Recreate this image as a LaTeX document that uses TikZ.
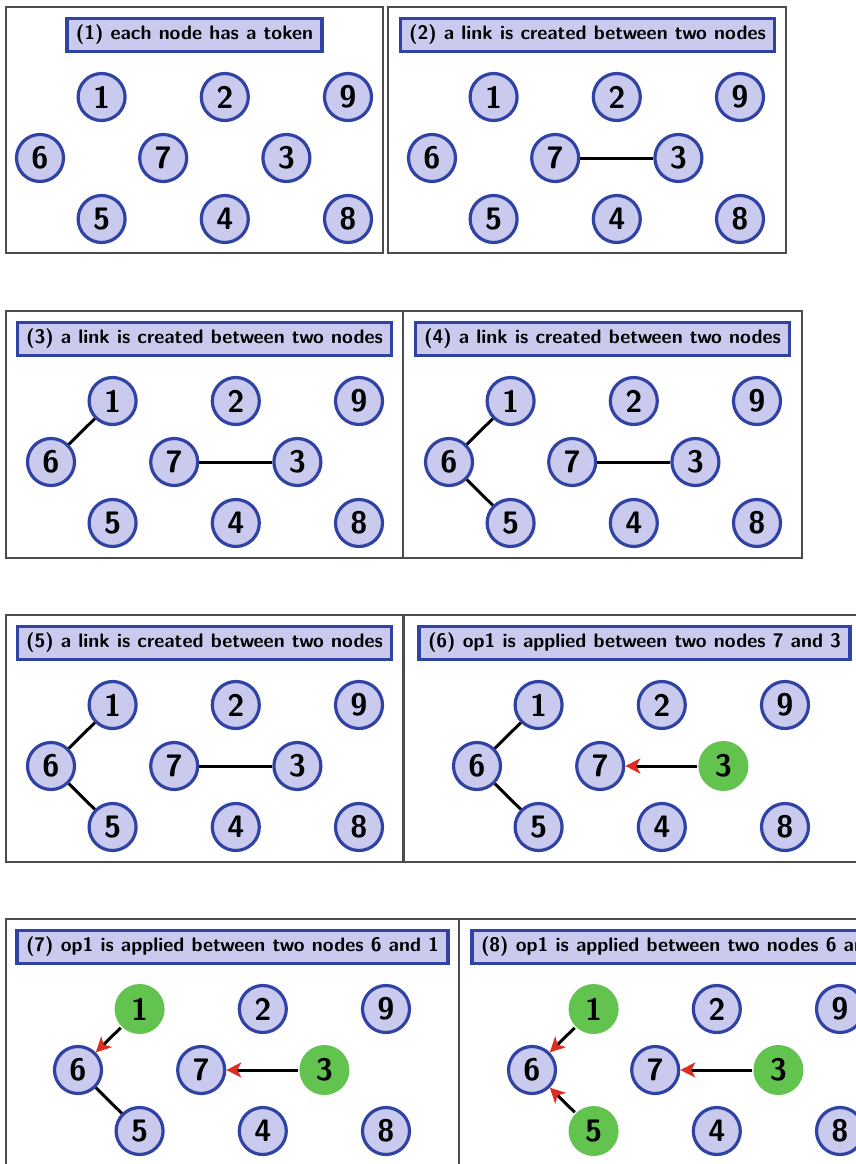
\documentclass[tikz,border=0pt]{standalone}
\usepackage{amsmath}
\usepackage{xcolor}
\usetikzlibrary{arrows.meta}

\definecolor{capfill}{RGB}{201,202,238}
\definecolor{capline}{RGB}{48,66,164}
\definecolor{donegreen}{RGB}{98,196,78}
\definecolor{tipred}{RGB}{222,44,30}

\tikzset{
    panelframe/.style={draw=black!70, line width=1.1pt},
    caption/.style={draw=capline, fill=capfill, line width=3.2pt, minimum height=33pt, inner xsep=9pt,
        font=\sffamily\bfseries\fontsize{19.6}{22}\selectfont},
    token/.style={circle, draw=capline, fill=capfill, line width=3.2pt, minimum size=47pt, inner sep=0pt,
        font=\sffamily\bfseries\fontsize{31}{32}\selectfont},
    done/.style={draw=none, fill=donegreen, minimum size=50pt},
    link/.style={line width=3pt},
    op/.style={line width=3pt, -{Stealth[tipred, length=15pt, width=15pt, inset=4pt]}}
}

% the nine tokens, #1 = x of token 6, #2 = y of the top row
\newcommand{\tokengrid}[2]{%
    \foreach \n/\c/\r in {6/0/1,1/1/0,5/1/2,7/2/1,2/3/0,4/3/2,3/4/1,9/5/0,8/5/2}
        \node[token, t\n/.try] (\n) at ({#1+61.6*\c},{#2+61*\r}) {\n};
}

\begin{document}
\begin{tikzpicture}[x=1pt, y=-1pt]
    \useasboundingbox (0,0) rectangle (856,1164);
    \clip (0,0) rectangle (856,1164);

    % (1)
    \begin{scope}[name prefix=p1-]
        \draw[panelframe] (6,7) rectangle (383,253);
        \node[caption] (title) at (194.5,35) {(1) each node has a token};
        \tokengrid{40}{97}
    \end{scope}

    % (2)
    \begin{scope}[name prefix=p2-]
        \draw[panelframe] (388,7) rectangle (786,253);
        \node[caption] (title) at (587.5,35) {(2) a link is created between two nodes};
        \tokengrid{432}{97}
        \draw[link] (7) -- (3);
    \end{scope}

    % (3)
    \begin{scope}[name prefix=p3-]
        \draw[panelframe] (6,311) rectangle (403,558);
        \node[caption] (title) at (204.5,339) {(3) a link is created between two nodes};
        \tokengrid{51}{401}
        \draw[link] (6) -- (1);
        \draw[link] (7) -- (3);
    \end{scope}

    % (4)
    \begin{scope}[name prefix=p4-]
        \draw[panelframe] (403,311) rectangle (802,558);
        \node[caption] (title) at (602.5,339) {(4) a link is created between two nodes};
        \tokengrid{449}{401}
        \draw[link] (6) -- (1);
        \draw[link] (6) -- (5);
        \draw[link] (7) -- (3);
    \end{scope}

    % (5)
    \begin{scope}[name prefix=p5-]
        \draw[panelframe] (6,615) rectangle (403,862);
        \node[caption] (title) at (204.5,643) {(5) a link is created between two nodes};
        \tokengrid{51}{705}
        \draw[link] (6) -- (1);
        \draw[link] (6) -- (5);
        \draw[link] (7) -- (3);
    \end{scope}

    % (6)
    \begin{scope}[name prefix=p6-, t3/.style={done}]
        \draw[panelframe] (404,615) rectangle (870,862);
        \node[caption] (title) at (634.5,643) {(6) op1 is applied between two nodes 7 and 3};
        \tokengrid{477}{705}
        \draw[link] (6) -- (1);
        \draw[link] (6) -- (5);
        \draw[op] (3) -- (7);
    \end{scope}

    % (7)
    \begin{scope}[name prefix=p7-, t1/.style={done}, t3/.style={done}]
        \draw[panelframe] (6,919) rectangle (459,1180);
        \node[caption] (title) at (232.5,947) {(7) op1 is applied between two nodes 6 and 1};
        \tokengrid{78}{1009}
        \draw[op] (1) -- (6);
        \draw[link] (6) -- (5);
        \draw[op] (3) -- (7);
    \end{scope}

    % (8)
    \begin{scope}[name prefix=p8-, t1/.style={done}, t3/.style={done}, t5/.style={done}]
        \draw[panelframe] (459,919) rectangle (930,1180);
        \node[caption] (title) at (687.5,947) {(8) op1 is applied between two nodes 6 and 5};
        \tokengrid{532}{1009}
        \draw[op] (1) -- (6);
        \draw[op] (5) -- (6);
        \draw[op] (3) -- (7);
    \end{scope}
\end{tikzpicture}
\end{document}
